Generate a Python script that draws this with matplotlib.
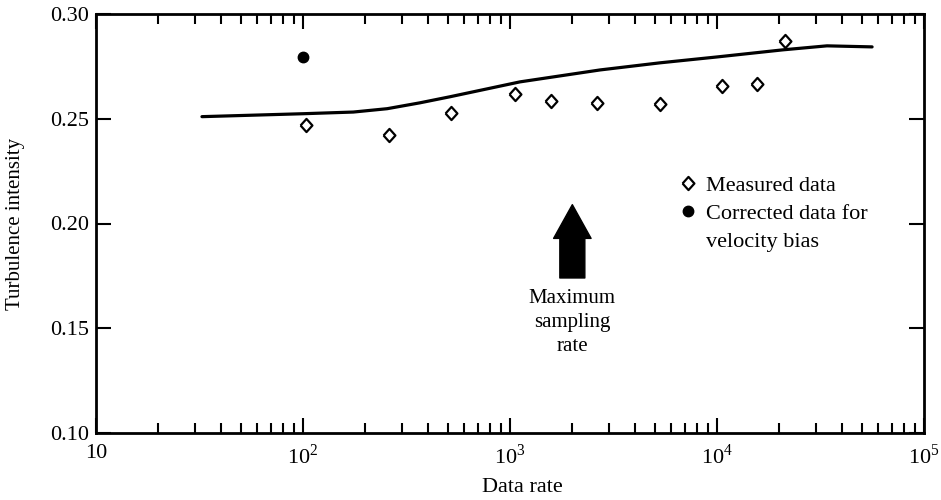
import numpy as np
import matplotlib.pyplot as plt
from matplotlib.lines import Line2D
from matplotlib.ticker import LogLocator, FixedLocator, NullFormatter

plt.rcParams['font.family'] = ['Liberation Serif', 'DejaVu Serif']
plt.rcParams['mathtext.fontset'] = 'custom'
plt.rcParams['mathtext.rm'] = 'Liberation Serif'

# measured data (diamonds)
rate_meas = [103, 261, 519, 1057, 1577, 2630, 5310, 10570, 15600, 21300]
ti_meas = [0.247, 0.2424, 0.2529, 0.2619, 0.2586, 0.2576, 0.2571, 0.2657, 0.2667, 0.2871]

# corrected for velocity bias
rate_corr = [100]
ti_corr = [0.2795]

# smooth curve
rate_curve = [32.5, 100, 175, 255, 367, 513, 1117, 2723, 5309, 10000, 20840, 33960, 56100]
ti_curve = [0.2510, 0.2524, 0.2532, 0.2548, 0.2576, 0.2605, 0.2676, 0.2733, 0.2767,
            0.2795, 0.2829, 0.2848, 0.2843]

max_rate = 2000

diamond = [(-0.9, 0), (0, 1), (0.9, 0), (0, -1), (-0.9, 0)]

fig = plt.figure(figsize=(9.41, 5), dpi=100)
ax = fig.add_axes([0.102, 0.134, 0.880, 0.838])

ax.plot(rate_curve, ti_curve, color='black', lw=2.3, solid_capstyle='round',
        solid_joinstyle='round')
meas, = ax.plot(rate_meas, ti_meas, linestyle='none', marker=diamond, ms=9.5,
                mfc='white', mec='black', mew=1.6)
corr, = ax.plot(rate_corr, ti_corr, linestyle='none', marker='o', ms=7.5,
                color='black')

ax.set_xscale('log')
ax.set_xlim(10, 1e5)
ax.set_ylim(0.10, 0.30)

ax.xaxis.set_major_locator(FixedLocator([10, 1e2, 1e3, 1e4, 1e5]))
ax.set_xticklabels(['10', '10$^2$', '10$^3$', '10$^4$', '10$^5$'])
ax.xaxis.set_minor_locator(LogLocator(base=10, subs=np.arange(2, 10)))
ax.xaxis.set_minor_formatter(NullFormatter())
ax.set_yticks([0.10, 0.15, 0.20, 0.25, 0.30])
ax.set_yticklabels(['0.10', '0.15', '0.20', '0.25', '0.30'])

ax.tick_params(which='both', direction='in', top=True, right=True, width=1.5,
               labelsize=16)
ax.tick_params(axis='x', pad=8)
ax.tick_params(axis='y', pad=5)
ax.tick_params(which='major', length=11)
ax.tick_params(which='minor', length=7)
for s in ax.spines.values():
    s.set_linewidth(2)

ax.annotate('', xy=(max_rate, 0.209), xytext=(max_rate, 0.174),
            arrowprops=dict(arrowstyle='simple,head_length=1.35,head_width=1.5,tail_width=1.0',
                            mutation_scale=18, color='black', shrinkA=0, shrinkB=0))
ax.text(max_rate, 0.1686, 'Maximum\nsampling\nrate', ha='center', va='top',
        fontsize=15, linespacing=1.34)

blank = Line2D([], [], linestyle='none', marker='none')
ax.legend([meas, corr, blank], ['Measured data', 'Corrected data for', 'velocity bias'],
          loc='upper left', bbox_to_anchor=(0.702, 0.615), frameon=False,
          fontsize=16, handletextpad=0.3, handlelength=1.0, labelspacing=0.33,
          borderaxespad=0, borderpad=0)

ax.set_xlabel('Data rate', fontsize=16)
ax.set_ylabel('Turbulence intensity', fontsize=15)
ax.xaxis.set_label_coords(0.515, -0.107)
ax.yaxis.set_label_coords(-0.086, 0.5)

fig.savefig('out.png', dpi=100)
